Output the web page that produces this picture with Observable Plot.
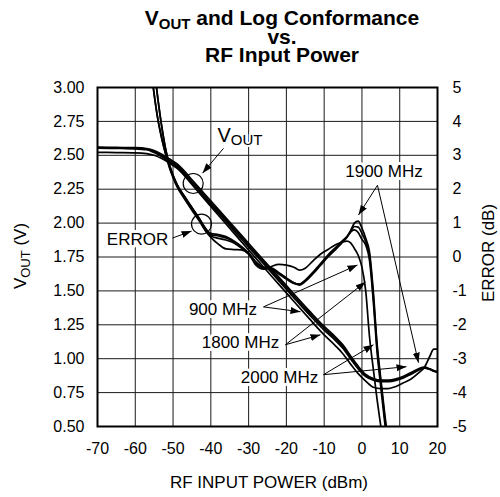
<!DOCTYPE html>
<html><head><meta charset="utf-8">
<script src="https://cdn.jsdelivr.net/npm/d3@7"></script>
<script src="https://cdn.jsdelivr.net/npm/@observablehq/plot@0.6"></script>
<style>
body{margin:0;background:#fff;}
#wrap{position:relative;width:500px;height:497px;font-family:"Liberation Sans",Arial,Helvetica,sans-serif;background:#fff;}
.tl{position:absolute;left:0;width:500px;padding-left:64px;box-sizing:border-box;text-align:center;font-weight:bold;font-size:21px;line-height:18px;height:18px;color:#000;white-space:nowrap;}
.tl .sub{font-size:15px;position:relative;top:4px;}
#chart{position:absolute;left:0;top:70px;}
</style></head>
<body><div id="wrap">
<div class="tl" style="top:9px">V<span class="sub">OUT</span> and Log Conformance</div>
<div class="tl" style="top:27.5px">vs.</div>
<div class="tl" style="top:46px">RF Input Power</div>
<div id="chart"></div></div>
<script>
// ---- axis ticks ----
const xTicks = [-70,-60,-50,-40,-30,-20,-10,0,10,20];
const xTickLabels = ["-70","-60","-50","-40","-30","-20","-10","0","10","20"];
const vTicks = [0.5,0.75,1.0,1.25,1.5,1.75,2.0,2.25,2.5,2.75,3.0];
const vTickLabels = ["0.50","0.75","1.00","1.25","1.50","1.75","2.00","2.25","2.50","2.75","3.00"];
const errTickLabels = ["-5","-4","-3","-2","-1","0","1","2","3","4","5"];

// ---- VOUT curves (V) vs RF input power (dBm) ----
const pwrV = [-70,-65,-60,-57,-55,-53,-51,-49,-47,-45,-42,-38,-34,-30,-26,-22,-18,-14,-10,-7,-5,-3,-1,1,3,5,7,9,11,13,15,16.5,18,19,20];
const vout900  = [2.556,2.554,2.551,2.545,2.527,2.498,2.462,2.425,2.37,2.305,2.212,2.088,1.962,1.837,1.712,1.588,1.463,1.34,1.225,1.148,1.088,1.01,0.935,0.876,0.848,0.836,0.836,0.845,0.864,0.892,0.92,0.932,0.922,0.91,0.902];
const vout1800 = [2.56,2.558,2.556,2.55,2.535,2.508,2.474,2.438,2.384,2.32,2.226,2.102,1.976,1.851,1.726,1.602,1.477,1.355,1.238,1.16,1.1,1.02,0.945,0.884,0.854,0.842,0.842,0.851,0.87,0.898,0.926,0.938,0.925,0.912,0.905];
const vout1900 = [2.553,2.551,2.548,2.541,2.52,2.49,2.452,2.414,2.358,2.292,2.198,2.074,1.948,1.823,1.698,1.574,1.449,1.326,1.21,1.134,1.075,0.998,0.925,0.868,0.842,0.83,0.831,0.84,0.858,0.886,0.915,0.93,0.92,0.908,0.9];
const vout2000 = [2.522,2.52,2.518,2.513,2.5,2.476,2.443,2.405,2.35,2.285,2.188,2.058,1.93,1.802,1.674,1.548,1.422,1.297,1.175,1.095,1.035,0.96,0.89,0.835,0.79,0.78,0.78,0.795,0.822,0.85,0.895,0.935,1.02,1.07,1.07];

// ---- log conformance error curves (dB) ----
const pwrE = [-57,-56,-55,-54,-53,-52,-51,-50,-49,-47,-45,-43,-41.5,-40,-38,-36,-34,-32,-30,-28,-26,-24,-22,-20,-18,-16.5,-15,-13,-11,-9,-7,-5,-4,-3,-2,-1,0,1,2,3,4,5,6,7];
const err900  = [6.7,5.7,4.8,4.05,3.5,3.05,2.65,2.34,2.08,1.72,1.38,1.05,0.78,0.58,0.38,0.24,0.22,0.21,0.1,-0.25,-0.36,-0.28,-0.22,-0.24,-0.3,-0.39,-0.33,-0.12,0.08,0.22,0.36,0.45,0.47,0.42,0.25,0.05,-0.3,-1.0,-2.35,-3.3,-4.2,-5.0,-5.8,-6.5];
const err1800 = [7.4,6.5,5.55,4.65,3.85,3.2,2.72,2.4,2.14,1.78,1.44,1.1,0.8,0.62,0.55,0.5,0.42,0.27,0.08,-0.2,-0.33,-0.36,-0.5,-0.65,-0.78,-0.8,-0.68,-0.45,-0.2,0.06,0.28,0.5,0.6,0.74,0.8,0.72,0.52,0.35,-0.1,-1.3,-2.8,-3.85,-4.85,-5.7];
const err1900 = [6.7,5.7,4.8,4.05,3.5,3.05,2.68,2.38,2.12,1.78,1.45,1.12,0.85,0.7,0.66,0.6,0.48,0.32,0.12,-0.15,-0.3,-0.32,-0.46,-0.62,-0.76,-0.83,-0.72,-0.5,-0.25,0.0,0.22,0.45,0.58,0.78,1.0,1.06,0.85,0.55,0.15,-1.0,-2.55,-3.6,-4.6,-5.5];
const err2000 = [7.4,6.5,5.55,4.65,3.85,3.2,2.75,2.42,2.16,1.8,1.46,1.13,0.86,0.66,0.62,0.56,0.45,0.3,0.1,-0.17,-0.32,-0.34,-0.48,-0.63,-0.77,-0.81,-0.7,-0.48,-0.22,0.03,0.25,0.47,0.58,0.74,0.9,0.88,0.7,0.45,0.05,-1.15,-2.65,-3.7,-4.7,-5.6];

// ---- annotations (data units: dBm, V) ----
const labelText = ["ERROR","1900 MHz","900 MHz","1800 MHz","2000 MHz"];
const labelPwr  = [-59.4, 5.83, -36.8, -32.15, -21.83];
const labelV    = [1.878, 2.378, 1.363, 1.121, 0.863];
const voutLabelText = ["V","OUT"];
const voutLabelPwr  = [-38.24, -34.72];
const voutLabelV    = [2.645, 2.609];
const arrowFromPwr = [-36.65,-50.15,4.11,4.11,-26.06,-26.06,-20.24,-20.24,-10.18,-10.18];
const arrowFromV   = [2.551,1.890,2.279,2.279,1.382,1.382,1.103,1.103,0.882,0.882];
const arrowToPwr   = [-42.2,-45.1,-0.92,14.97,-1.18,-16.27,-10.98,0.93,3.05,11.79];
const arrowToV     = [2.368,1.941,2.059,0.971,1.691,1.346,1.176,1.566,1.103,0.941];
const circlePwr = [-44.67, -42.47];
const circleV   = [2.292, 1.993];

// ---- build tables ----
const voutSeries = [["900",vout900],["1800",vout1800],["1900",vout1900],["2000",vout2000]];
const voutRows = voutSeries.flatMap(([f, vals]) => pwrV.map((p, i) => ({f, p, v: vals[i]})));
const errSeries = [["900",err900],["1800",err1800],["1900",err1900],["2000",err2000]];
const errRows = errSeries.flatMap(([f, vals]) => pwrE.map((p, i) => ({f, p, e: vals[i]})));
const dbToV = e => 1.75 + 0.25 * e;
const labels = labelText.map((t, i) => ({t, p: labelPwr[i], v: labelV[i]}));
const arrows = arrowFromPwr.map((p, i) => ({p1: p, v1: arrowFromV[i], p2: arrowToPwr[i], v2: arrowToV[i]}));
const circles = circlePwr.map((p, i) => ({p, v: circleV[i]}));

const font = '"Liberation Sans", Arial, Helvetica, sans-serif';
const plot = Plot.plot({
  width: 500, height: 427,
  marginLeft: 97, marginRight: 63, marginTop: 17, marginBottom: 71,
  style: {fontFamily: font, fontSize: "16px", color: "black", background: "white", overflow: "visible"},
  x: {domain: [-70, 20]},
  y: {domain: [0.5, 3.0]},
  marks: [
    Plot.gridX(xTicks, {stroke: "#1a1a1a", strokeOpacity: 1, strokeWidth: 1}),
    Plot.gridY(vTicks, {stroke: "#1a1a1a", strokeOpacity: 1, strokeWidth: 1}),
    Plot.axisX(xTicks, {tickSize: 0, tickPadding: 16, label: null, fontSize: 16, tickFormat: d => xTickLabels[xTicks.indexOf(d)]}),
    Plot.axisY(vTicks, {anchor: "left", tickSize: 0, tickPadding: 13, label: null, fontSize: 16, tickFormat: d => vTickLabels[vTicks.indexOf(d)]}),
    Plot.axisY(vTicks, {anchor: "right", tickSize: 0, tickPadding: 15, label: null, fontSize: 16, tickFormat: d => errTickLabels[vTicks.indexOf(d)]}),
    Plot.line(voutRows, {x: "p", y: "v", z: "f", stroke: "black", strokeWidth: 1.7, curve: "monotone-x", clip: true}),
    Plot.line(errRows, {x: "p", y: d => dbToV(d.e), z: "f", stroke: "black", strokeWidth: 1.7, curve: "monotone-x", clip: true}),
    Plot.frame({stroke: "black", strokeWidth: 2}),
    Plot.dot(circles, {x: "p", y: "v", r: 10, stroke: "black", strokeWidth: 1.2, fill: "none"}),
    Plot.link(arrows, {x1: "p1", y1: "v1", x2: "p2", y2: "v2", stroke: "black", strokeWidth: 1}),
    Plot.text(labels, {x: "p", y: "v", text: "t", fontSize: 17, fill: "black", stroke: "white", strokeWidth: 6, textAnchor: "middle", lineAnchor: "middle"}),
    Plot.text([0], {x: voutLabelPwr[0], y: voutLabelV[0], text: () => voutLabelText[0], fontSize: 20, fill: "black", stroke: "white", strokeWidth: 5, textAnchor: "start"}),
    Plot.text([0], {x: voutLabelPwr[1], y: voutLabelV[1], text: () => voutLabelText[1], fontSize: 15, fill: "black", stroke: "white", strokeWidth: 4, textAnchor: "start"})
  ]
});
document.getElementById("chart").appendChild(plot);

// arrowheads (filled) and axis titles with subscripts
const svg = d3.select(plot);
const defs = svg.append("defs");
defs.append("marker").attr("id", "ah").attr("viewBox", "-10 -4 10 8").attr("refX", 0).attr("refY", 0)
  .attr("markerWidth", 10).attr("markerHeight", 8).attr("markerUnits", "userSpaceOnUse").attr("orient", "auto")
  .append("path").attr("d", "M-10,-3.5L0,0L-10,3.5Z").attr("fill", "black");
svg.selectAll('g[aria-label="link"] path').attr("marker-end", "url(#ah)");

const tg = svg.append("g").attr("font-family", font).attr("fill", "black");
tg.append("text").attr("x", 269).attr("y", 418).attr("text-anchor", "middle").attr("font-size", 17).text("RF INPUT POWER (dBm)");
const lt = tg.append("text").attr("transform", "translate(26,186) rotate(-90)").attr("text-anchor", "middle").attr("font-size", 17);
lt.append("tspan").text("V");
lt.append("tspan").attr("font-size", 13).attr("dy", 4).text("OUT");
lt.append("tspan").attr("dy", -4).text(" (V)");
tg.append("text").attr("transform", "translate(494,183) rotate(-90)").attr("text-anchor", "middle").attr("font-size", 17).text("ERROR (dB)");
</script></body></html>
